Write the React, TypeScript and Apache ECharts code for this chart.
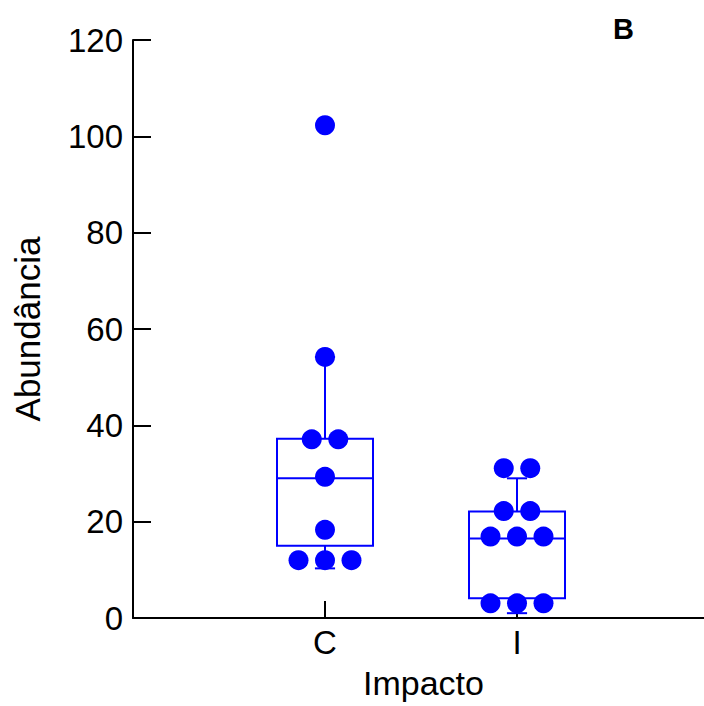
import React, { useEffect, useRef } from "react";
import * as echarts from "echarts";

const categories = ["C", "I"];
// [min whisker, Q1, median, Q3, max whisker]
const boxC = [10.3, 15, 29, 37.2, 54.2];
const boxI = [1, 4.1, 16.5, 22.1, 29];
const pointsC = [102.3, 54.2, 37.1, 37.1, 29.3, 18.3, 12, 12, 12];
const pointsI = [31.1, 31.1, 22.2, 22.2, 16.9, 16.9, 16.9, 3.05, 3.05, 3.05];
const yTicks = [0, 20, 40, 60, 80, 100, 120];

const BLUE = "#0000ff";

function swarm(values: number[], xCenter: number, spacing: number) {
  const groups: Record<string, number[]> = {};
  values.forEach((v, i) => {
    const k = String(v);
    (groups[k] = groups[k] || []).push(i);
  });
  const out: number[][] = [];
  Object.keys(groups).forEach((k) => {
    const idx = groups[k];
    const n = idx.length;
    idx.forEach((_, j) => {
      out.push([xCenter + (j - (n - 1) / 2) * spacing, Number(k)]);
    });
  });
  return out;
}

export default function App() {
  const ref = useRef<HTMLDivElement>(null);
  useEffect(() => {
    if (!ref.current) return;
    const chart = echarts.init(ref.current, null, { renderer: "svg" });
    const spacing = 0.138;
    const scatterData = [
      ...swarm(pointsC, 1, spacing),
      ...swarm(pointsI, 2, spacing),
    ];
    const boxData = [
      [1, ...boxC],
      [2, ...boxI],
    ];
    const font = "'Liberation Sans', Arial, sans-serif";
    chart.setOption({
      animation: false,
      grid: { left: 133, top: 40, right: -10, height: 578, outerBoundsMode: "none", containLabel: false },
      xAxis: {
        type: "value",
        min: 0,
        max: 3.026,
        interval: 1,
        name: "Impacto",
        nameLocation: "middle",
        nameGap: 48,
        nameTextStyle: { fontSize: 34, color: "#000", fontFamily: font },
        axisLine: { show: true, lineStyle: { color: "#000", width: 2 } },
        axisTick: { show: false },
        axisLabel: {
          fontSize: 33,
          color: "#000",
          fontFamily: font,
          margin: 8,
          formatter: (v: number) => categories[v - 1] ?? "",
        },
        splitLine: { show: false },
      },
      yAxis: {
        type: "value",
        min: yTicks[0],
        max: yTicks[yTicks.length - 1],
        interval: yTicks[1] - yTicks[0],
        name: "Abundância",
        nameLocation: "middle",
        nameGap: 88,
        nameTextStyle: { fontSize: 35, color: "#000", fontFamily: font },
        axisLine: { show: true, lineStyle: { color: "#000", width: 2 } },
        axisTick: { show: true, inside: true, length: 18, lineStyle: { color: "#000", width: 2 } },
        axisLabel: { fontSize: 33, color: "#000", fontFamily: font, margin: 10 },
        splitLine: { show: false },
      },
      graphic: [
        {
          type: "text",
          left: 613,
          top: 14,
          style: { text: "B", fontSize: 29, fontWeight: "bold", fill: "#000", fontFamily: font },
        },
      ],
      series: [
        {
          type: "custom",
          data: boxData,
          encode: { x: 0, y: [1, 2, 3, 4, 5] },
          renderItem: (params: any, api: any) => {
            const x = api.value(0);
            const base = api.coord([x, 0]);
            const lo = api.coord([x, api.value(1)]);
            const q1 = api.coord([x, api.value(2)]);
            const md = api.coord([x, api.value(3)]);
            const q3 = api.coord([x, api.value(4)]);
            const hi = api.coord([x, api.value(5)]);
            const w = api.size([0.5, 0])[0];
            const cap = api.size([0.105, 0])[0];
            const cx = md[0];
            const st = { stroke: BLUE, lineWidth: 2, fill: "none" };
            return {
              type: "group",
              children: [
                {
                  type: "line",
                  shape: { x1: cx, y1: base[1], x2: cx, y2: base[1] - 17 },
                  style: { stroke: "#000", lineWidth: 2 },
                },
                { type: "rect", shape: { x: cx - w / 2, y: q3[1], width: w, height: q1[1] - q3[1] }, style: st },
                { type: "line", shape: { x1: cx - w / 2, y1: md[1], x2: cx + w / 2, y2: md[1] }, style: st },
                { type: "line", shape: { x1: cx, y1: q3[1], x2: cx, y2: hi[1] }, style: st },
                { type: "line", shape: { x1: cx - cap / 2, y1: hi[1], x2: cx + cap / 2, y2: hi[1] }, style: st },
                { type: "line", shape: { x1: cx, y1: q1[1], x2: cx, y2: lo[1] }, style: st },
                { type: "line", shape: { x1: cx - cap / 2, y1: lo[1], x2: cx + cap / 2, y2: lo[1] }, style: st },
              ],
            };
          },
          z: 2,
        },
        {
          type: "scatter",
          data: scatterData,
          symbol: "circle",
          symbolSize: 20,
          itemStyle: { color: BLUE, opacity: 1 },
          z: 3,
        },
      ],
    });
    return () => chart.dispose();
  }, []);
  return (
    <div
      ref={ref}
      style={{ position: "absolute", left: 0, top: 0, width: 704, height: 706 }}
    />
  );
}
